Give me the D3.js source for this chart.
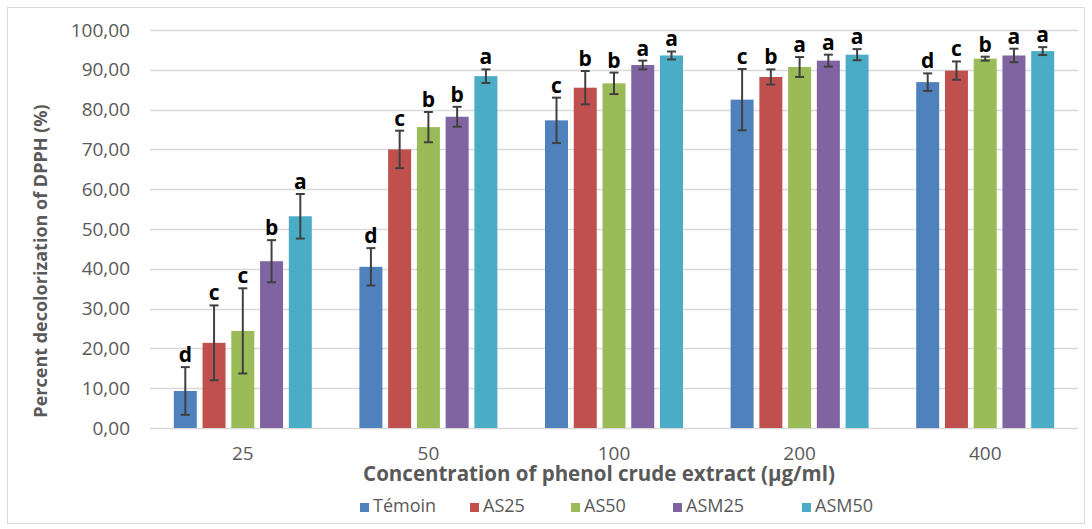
<!DOCTYPE html>
<html>
<head>
<meta charset="utf-8">
<script src="https://cdn.jsdelivr.net/npm/d3@7"></script>
<style>
  body { margin: 0; background: #fff; }
  text { font-family: "Open Sans", "Liberation Sans", sans-serif; }
</style>
</head>
<body>
<div id="chart"></div>
<script>

// data
var concentrations = ["25", "50", "100", "200", "400"];
var series = ["Témoin", "AS25", "AS50", "ASM25", "ASM50"];
var colors = ["#4F81BD", "#C0504D", "#9BBB59", "#8064A2", "#4BACC6"];

var temoin = [9.3, 40.5, 77.3, 82.5, 86.9];
var as25 = [21.4, 70.0, 85.5, 88.2, 89.8];
var as50 = [24.4, 75.6, 86.6, 90.7, 92.8];
var asm25 = [41.9, 78.2, 91.2, 92.3, 93.6];
var asm50 = [53.2, 88.4, 93.6, 93.8, 94.7];

var errTemoin = [6.0, 4.7, 5.7, 7.7, 2.2];
var errAs25 = [9.4, 4.7, 4.2, 1.9, 2.3];
var errAs50 = [10.7, 3.8, 2.7, 2.5, 0.5];
var errAsm25 = [5.3, 2.5, 1.1, 1.5, 1.7];
var errAsm50 = [5.6, 1.7, 1.0, 1.4, 1.0];

var lettersTemoin = ["d", "d", "c", "c", "d"];
var lettersAs25 = ["c", "c", "b", "b", "c"];
var lettersAs50 = ["c", "b", "b", "a", "b"];
var lettersAsm25 = ["b", "b", "a", "a", "a"];
var lettersAsm50 = ["a", "a", "a", "a", "a"];

var yTicks = [0, 10, 20, 30, 40, 50, 60, 70, 80, 90, 100];

var values = [temoin, as25, as50, asm25, asm50],
	errors = [errTemoin, errAs25, errAs50, errAsm25, errAsm50],
	letters = [lettersTemoin, lettersAs25, lettersAs50, lettersAsm25, lettersAsm50];

// flat list of bars
var bars = [];
concentrations.forEach(function(c, i){
	series.forEach(function(s, j){
		bars.push({conc: c, serie: s, idx: j, value: values[j][i], err: errors[j][i], letter: letters[j][i]});
	});
});

// sizes
var width = 1092, height = 529;
var margin = {top: 30, right: 14, bottom: 101, left: 150};

var svg = d3.select("#chart").append("svg")
	.attr("width", width)
	.attr("height", height);

// chart border
svg.append("rect")
	.attr("x", 7.5)
	.attr("y", 7.5)
	.attr("width", width - 15)
	.attr("height", height - 13)
	.attr("fill", "#fff")
	.attr("stroke", "#d9d9d9")
	.attr("stroke-width", 1);

var x0 = d3.scaleBand()
	.domain(concentrations)
	.range([margin.left, width - margin.right]);

var groupWidth = 138;
var x1 = d3.scaleBand()
	.domain(series)
	.range([0, groupWidth])
	.paddingInner(0.2);

var y = d3.scaleLinear()
	.domain([0, 100])
	.range([height - margin.bottom, margin.top]);

// gridlines
svg.append("g")
	.selectAll("line")
	.data(yTicks)
	.enter()
	.append("line")
	.attr("x1", margin.left)
	.attr("x2", width - margin.right)
	.attr("y1", function(d){ return Math.round(y(d)) + 0.5; })
	.attr("y2", function(d){ return Math.round(y(d)) + 0.5; })
	.attr("stroke", "#d9d9d9")
	.attr("stroke-width", 1.5);

// y axis labels
var yAxis = svg.append("g")
	.attr("transform", "translate(" + (margin.left - 20) + ",0)")
	.call(d3.axisLeft(y).tickValues(yTicks).tickSize(0).tickPadding(0)
		.tickFormat(function(d){ return d3.format(".2f")(d).replace(".", ","); }));
yAxis.select(".domain").remove();
yAxis.selectAll("text")
	.attr("fill", "#595959")
	.style("font-size", "19px")
	.style("font-family", "'Open Sans', sans-serif");

// x axis labels
var xAxis = svg.append("g")
	.attr("transform", "translate(0," + (height - margin.bottom) + ")")
	.call(d3.axisBottom(x0).tickSize(0).tickPadding(19));
xAxis.select(".domain").remove();
xAxis.selectAll("text")
	.attr("fill", "#595959")
	.style("font-size", "19px")
	.style("font-family", "'Open Sans', sans-serif");

function barX(d){
	return x0(d.conc) + (x0.bandwidth() - groupWidth) / 2 + x1(d.serie);
}

// bars
svg.append("g")
	.selectAll("rect")
	.data(bars)
	.enter()
	.append("rect")
	.attr("x", barX)
	.attr("y", function(d){ return y(d.value); })
	.attr("width", x1.bandwidth())
	.attr("height", function(d){ return y(0) - y(d.value); })
	.attr("fill", function(d){ return colors[d.idx]; });

// error bars
var errG = svg.append("g")
	.attr("stroke", "#404040")
	.attr("stroke-width", 2);

errG.selectAll(".stem")
	.data(bars)
	.enter()
	.append("line")
	.attr("class", "stem")
	.attr("x1", function(d){ return barX(d) + x1.bandwidth() / 2; })
	.attr("x2", function(d){ return barX(d) + x1.bandwidth() / 2; })
	.attr("y1", function(d){ return y(d.value + d.err); })
	.attr("y2", function(d){ return y(d.value - d.err); });

errG.selectAll(".captop")
	.data(bars)
	.enter()
	.append("line")
	.attr("class", "captop")
	.attr("x1", function(d){ return barX(d) + x1.bandwidth() / 2 - 4.5; })
	.attr("x2", function(d){ return barX(d) + x1.bandwidth() / 2 + 4.5; })
	.attr("y1", function(d){ return y(d.value + d.err); })
	.attr("y2", function(d){ return y(d.value + d.err); });

errG.selectAll(".capbottom")
	.data(bars)
	.enter()
	.append("line")
	.attr("class", "capbottom")
	.attr("x1", function(d){ return barX(d) + x1.bandwidth() / 2 - 4.5; })
	.attr("x2", function(d){ return barX(d) + x1.bandwidth() / 2 + 4.5; })
	.attr("y1", function(d){ return y(d.value - d.err); })
	.attr("y2", function(d){ return y(d.value - d.err); });

// significance letters
svg.append("g")
	.selectAll("text")
	.data(bars)
	.enter()
	.append("text")
	.attr("x", function(d){ return barX(d) + x1.bandwidth() / 2; })
	.attr("y", function(d){ return y(d.value + d.err) - 5; })
	.attr("text-anchor", "middle")
	.style("font-size", "21px")
	.style("font-weight", "bold")
	.attr("fill", "#000")
	.text(function(d){ return d.letter; });

// y axis title
svg.append("text")
	.attr("transform", "translate(47,261) rotate(-90)")
	.attr("text-anchor", "middle")
	.style("font-size", "18px")
	.style("font-weight", "bold")
	.attr("fill", "#595959")
	.text("Percent decolorization of DPPH (%)");

// x axis title
svg.append("text")
	.attr("x", 599)
	.attr("y", 481)
	.attr("text-anchor", "middle")
	.style("font-size", "20.5px")
	.style("font-weight", "bold")
	.attr("fill", "#595959")
	.text("Concentration of phenol crude extract (µg/ml)");

// legend
var legendX = [360, 470, 571, 673, 802];
var legend = svg.append("g")
	.selectAll("g")
	.data(series)
	.enter()
	.append("g")
	.attr("transform", function(d, i){ return "translate(" + legendX[i] + ",512)"; });

legend.append("rect")
	.attr("x", 0)
	.attr("y", -9)
	.attr("width", 9)
	.attr("height", 9)
	.attr("fill", function(d, i){ return colors[i]; });

legend.append("text")
	.attr("x", 13)
	.attr("y", 0)
	.style("font-size", "18px")
	.attr("fill", "#595959")
	.text(function(d){ return d; });

</script>
</body>
</html>
